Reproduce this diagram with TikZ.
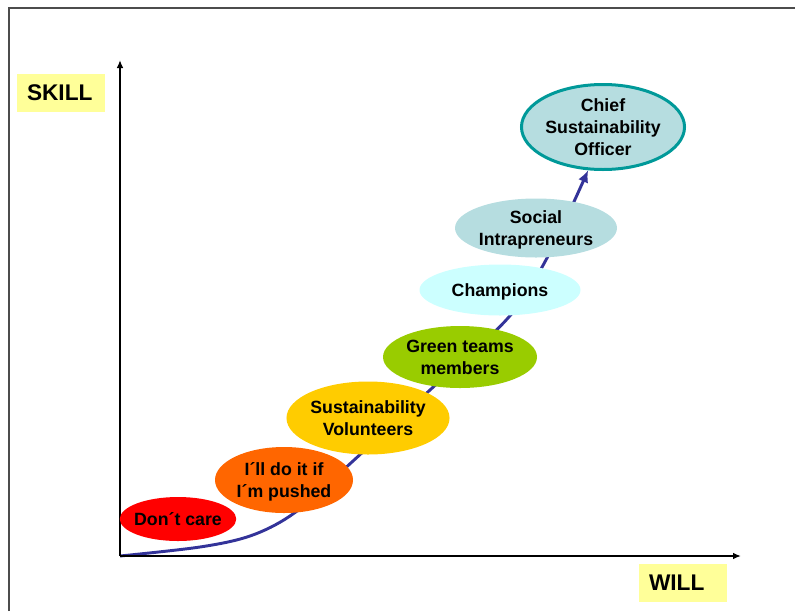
\documentclass[tikz,border=0pt]{standalone}
\usepackage{fontspec}
\setmainfont{Liberation Sans}
\usetikzlibrary{shapes.geometric,arrows.meta,backgrounds}

\definecolor{labelyellow}{HTML}{FFFF99}
\definecolor{curveblue}{HTML}{333399}
\definecolor{carered}{HTML}{FF0000}
\definecolor{pushorange}{HTML}{FF6600}
\definecolor{volgold}{HTML}{FFCC00}
\definecolor{teamgreen}{HTML}{99CC00}
\definecolor{champcyan}{HTML}{CCFFFF}
\definecolor{socialteal}{HTML}{B6DDE0}
\definecolor{chiefline}{HTML}{009999}

\tikzset{
	axis/.style={line width=1.2pt, -{Latex[length=6pt,width=5pt]}},
	growth/.style={draw=curveblue, line width=2.2pt, -{Latex[length=9pt,width=8pt]}},
	axislabel/.style={fill=labelyellow, inner ysep=0pt, inner xsep=7.5pt, text width=51pt,
		minimum height=28.5pt, align=left, font=\bfseries\fontsize{17}{20}\selectfont},
	stage/.style={ellipse, inner sep=0pt, align=center, text depth=0pt,
		font=\bfseries\fontsize{13.3}{16.8}\selectfont}
}

\begin{document}
\begin{tikzpicture}[x=0.75pt,y=-0.75pt]
		\useasboundingbox (0,0) rectangle (795,611);
		\draw[gray!60!black, line width=0.8pt] (9,611) -- (9,8) -- (795,8);
		\coordinate (origin) at (120,556);
		\coordinate (skilltop) at (120,60);
		\coordinate (willend) at (741,556);
		\draw[axis] (origin) -- (skilltop);
		\draw[axis] (origin) -- (willend);
		\node[axislabel] (skill) at (61,92.5) {SKILL};
		\node[axislabel] (will) at (683,582.5) {WILL};
		\node[stage, fill=carered, minimum width=87pt, minimum height=33pt, inner xsep=-2pt] (dontcare) at (178,519) {Don´t care};
		\node[stage, fill=pushorange, minimum width=103.5pt, minimum height=49.5pt] (pushed) at (284,480) {I´ll do it if\\I´m pushed};
		\node[stage, fill=volgold, minimum width=120.75pt, minimum height=54.75pt] (volunteers) at (368,418) {Sustainability\\Volunteers};
		\node[stage, fill=teamgreen, minimum width=115.5pt, minimum height=46.5pt] (greenteams) at (460,357) {Green teams\\members};
		\node[stage, fill=champcyan, minimum width=120.75pt, minimum height=38.25pt] (champions) at (500,290) {Champions};
		\node[stage, fill=socialteal, minimum width=121.5pt, minimum height=44.25pt] (social) at (536,228) {Social\\Intrapreneurs};
		\node[stage, fill=socialteal, draw=chiefline, line width=2.25pt, minimum width=120.75pt, minimum height=63.75pt] (chief) at (603,127) {Chief\\Sustainability\\Officer};
		\begin{pgfonlayer}{background}
			\draw[growth] plot[smooth, tension=0.55] coordinates {(origin) (200,547) (250,536) (290,516) (330,482) (430,390) (508,318) (547,258) (chief.251)};
		\end{pgfonlayer}
	\end{tikzpicture}
\end{document}
